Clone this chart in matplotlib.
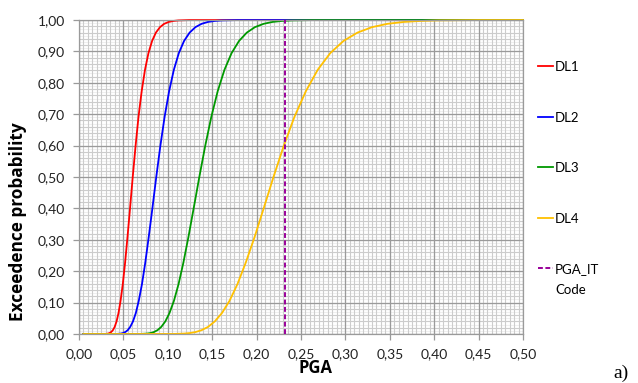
import numpy as np
import matplotlib
matplotlib.use("Agg")
import matplotlib.pyplot as plt
from matplotlib.ticker import FixedLocator

plt.rcParams["font.family"] = ["Lato", "DejaVu Sans"]

# fragility curves: PGA values where each curve
# reaches the probability levels below
p_levels = [0.0, 0.0002, 0.0013, 0.003, 0.0062, 0.0122, 0.0228, 0.0401, 0.0668, 0.1056,
            0.1587, 0.2266, 0.3085, 0.4013, 0.5, 0.5987, 0.6915, 0.7734, 0.8413, 0.8944,
            0.9332, 0.9599, 0.9772, 0.9878, 0.9938, 0.997, 0.9987, 0.9998, 1.0]

dl1_pga = [0.005, 0.0295, 0.0327, 0.0344, 0.0362, 0.0382, 0.0402, 0.0423, 0.0445, 0.0468,
           0.0493, 0.0519, 0.0546, 0.0575, 0.0605, 0.0637, 0.0670, 0.0706, 0.0743, 0.0782,
           0.0823, 0.0866, 0.0912, 0.0959, 0.1010, 0.1063, 0.1119, 0.124, 0.50]
dl2_pga = [0.005, 0.0425, 0.0470, 0.0495, 0.0521, 0.0549, 0.0577, 0.0608, 0.0640, 0.0673,
           0.0709, 0.0746, 0.0785, 0.0827, 0.0870, 0.0916, 0.0964, 0.1015, 0.1068, 0.1124,
           0.1183, 0.1246, 0.1311, 0.1380, 0.1452, 0.1529, 0.1609, 0.1783, 0.50]
dl3_pga = [0.005, 0.0697, 0.0766, 0.0804, 0.0843, 0.0884, 0.0927, 0.0972, 0.1019, 0.1069,
           0.1121, 0.1175, 0.1232, 0.1292, 0.1355, 0.1421, 0.1490, 0.1562, 0.1638, 0.1718,
           0.1802, 0.1890, 0.1981, 0.2078, 0.2179, 0.2285, 0.2396, 0.2635, 0.50]
dl4_pga = [0.005, 0.1069, 0.1184, 0.1246, 0.1312, 0.1381, 0.1454, 0.1529, 0.1610, 0.1695,
           0.1784, 0.1877, 0.1977, 0.2081, 0.2190, 0.2305, 0.2426, 0.2555, 0.2688, 0.2829,
           0.2978, 0.3136, 0.3300, 0.3472, 0.3656, 0.3849, 0.4051, 0.4487, 0.50]

pga_it_code = 0.232

names = ["DL1", "DL2", "DL3", "DL4"]
colors = ["#ff0000", "#0000ff", "#009900", "#ffc000"]

x_ticks = [0.0, 0.05, 0.10, 0.15, 0.20, 0.25, 0.30, 0.35, 0.40, 0.45, 0.50]
x_labels = ["0,00", "0,05", "0,10", "0,15", "0,20", "0,25", "0,30", "0,35", "0,40", "0,45", "0,50"]
y_ticks = [0.0, 0.1, 0.2, 0.3, 0.4, 0.5, 0.6, 0.7, 0.8, 0.9, 1.0]
y_labels = ["0,00", "0,10", "0,20", "0,30", "0,40", "0,50", "0,60", "0,70", "0,80", "0,90", "1,00"]


fig = plt.figure(figsize=(6.38, 3.83), dpi=100)
ax = fig.add_axes([79/638, 1-334/383, 444/638, 314/383])

# excel-like layered grid
for v in np.arange(0, 1.0001, 0.01):
    ax.axhline(v, color="#efefef", lw=0.8, zorder=0)
for v in np.arange(0, 0.5001, 0.005):
    ax.axvline(v, color="#cccccc", lw=0.8, zorder=0.5)
for v in np.arange(0, 1.0001, 0.02):
    ax.axhline(v, color="#cccccc", lw=0.8, zorder=0.5)
for v in x_ticks:
    ax.axvline(v, color="#9a9a9a", lw=0.9, zorder=0.6)
for v in y_ticks:
    ax.axhline(v, color="#9a9a9a", lw=0.9, zorder=0.6)

curves = [dl1_pga, dl2_pga, dl3_pga, dl4_pga]
handles = []
for xs, name, c in zip(curves, names, colors):
    h, = ax.plot(xs, p_levels, color=c, lw=1.3, label=name, zorder=2, clip_on=False)
    handles.append(h)

h, = ax.plot([pga_it_code, pga_it_code], [0, 1], color="#990099", lw=1.4,
             linestyle=(0, (2.5, 1.3)), label="PGA_IT", zorder=3)
handles.append(h)

ax.set_xlim(0, 0.5)
ax.set_ylim(0, 1)
ax.xaxis.set_major_locator(FixedLocator(x_ticks))
ax.yaxis.set_major_locator(FixedLocator(y_ticks))
ax.set_xticklabels(x_labels)
ax.set_yticklabels(y_labels)
ax.tick_params(length=4.5, width=0.9, color="#9a9a9a", labelsize=10, pad=5.5, labelcolor="#222222")

for s in ax.spines.values():
    s.set_color("#9a9a9a")
    s.set_linewidth(0.9)

ax.set_xlabel("PGA", fontsize=12, fontweight="bold", family="Open Sans")
ax.set_ylabel("Exceedence probability", fontsize=12.4, fontweight="bold", family="Open Sans")
ax.xaxis.set_label_coords((315-79)/444, -(359-334)/314)
ax.yaxis.set_label_coords(-(79-27)/444, (334-222)/314)

leg = fig.legend(handles=handles, loc="upper left", bbox_to_anchor=(538/638, 1-61/383),
                 frameon=False, fontsize=9.5, handlelength=1.15, handletextpad=0.15,
                 labelspacing=2.92, borderpad=0, borderaxespad=0)

# second line of the last legend entry, under "PGA_IT"
fig.canvas.draw()
bb = leg.get_texts()[-1].get_window_extent()
fig.text(bb.x0/638, (bb.y0-21)/383, "Code", fontsize=9.5, va="bottom", ha="left")

fig.text(613/638, 5/383, "a)", fontsize=14, family="Liberation Serif", va="baseline")

plt.savefig("out.png", dpi=100)
